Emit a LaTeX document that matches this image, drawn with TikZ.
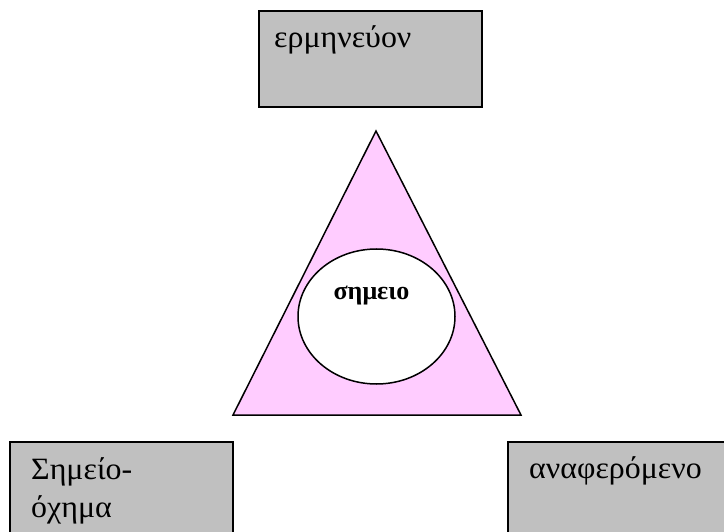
\documentclass[tikz,border=0pt]{standalone}
\usepackage{fontspec}
\setmainfont{Liberation Serif}
\newfontfamily\widefont[FakeStretch=1.03]{Liberation Serif}
\usetikzlibrary{shapes.geometric}
\definecolor{boxgray}{HTML}{C0C0C0}
\definecolor{tripink}{HTML}{FFCCFF}
\tikzset{
  greybox/.style={draw=black, line width=2pt, fill=boxgray, inner sep=0pt, anchor=north west},
  lbl/.style={anchor=base west, inner sep=0pt, font=\widefont\fontsize{31}{38}\selectfont},
}
\begin{document}
\begin{tikzpicture}[x=1pt,y=-1pt]
\useasboundingbox (0,0) rectangle (724,532);
\clip (0,0) rectangle (724,532);
% boxes
\node[greybox, minimum width=223pt, minimum height=96pt] (top) at (258,10) {};
\node[greybox, minimum width=223pt, minimum height=120pt] (left) at (9,441) {};
\node[greybox, minimum width=240pt, minimum height=120pt] (right) at (507,441) {};
\node[lbl] (topt) at (274,48) {ερμηνεύον};
\node[lbl] (leftt1) at (31,479) {Σημείο-};
\node[lbl] (leftt2) at (31,517) {όχημα};
\node[lbl] (rightt) at (529,478) {αναφερόμενο};
% triangle
\coordinate (apex) at (376,131);
\coordinate (bl) at (233,415);
\coordinate (br) at (521,415);
\filldraw[fill=tripink, draw=black, line width=1.5pt, line join=miter] (apex) -- (bl) -- (br) -- cycle;
\node[ellipse, draw=black, line width=1.5pt, fill=white, minimum width=157pt, minimum height=135pt, inner sep=0pt] (circ) at (376.5,316.5) {};
\node[anchor=base, inner sep=0pt, font=\fontsize{26}{30}\selectfont\bfseries] (sem) at (371.5,300) {σημειο};
\end{tikzpicture}
\end{document}
